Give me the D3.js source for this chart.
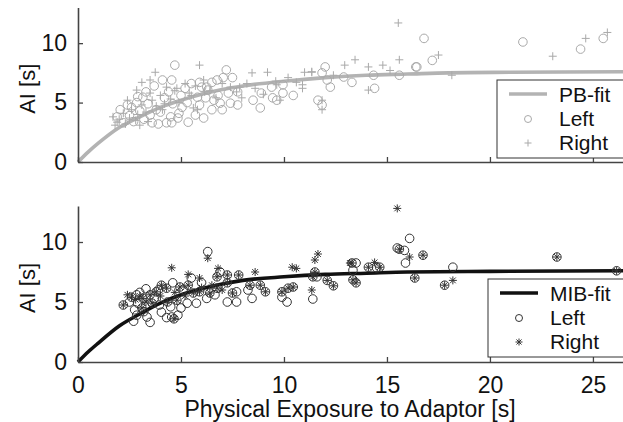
<!DOCTYPE html>
<html lang="en">
<head>
<meta charset="UTF-8">
<title>AI vs exposure</title>
<script src="https://d3js.org/d3.v7.min.js"></script>
<style>
  body { margin: 0; background: #fff; }
  svg { display: block; font-family: "Liberation Sans", Arial, sans-serif; }
</style>
</head>
<body>
<div id="chart"></div>
<script>
/*---------------- data ----------------*/
// x ticks / y ticks
const xTicks = [0, 5, 10, 15, 20, 25];
const yTicks = [0, 5, 10];

// fitted curves, [exposure, AI]
const pbFit = [[0,0],[0.5,0.85],[1,1.6],[2,2.9],[3,3.8],[4,4.6],[5,5.2],[6,5.7],[7,6.1],[8,6.4],[10,6.8],[12,7.1],[14,7.3],[16,7.4],[18,7.5],[21,7.55],[26.5,7.6]];
const mibFit = [[0,0],[0.5,0.85],[1,1.6],[2,3.0],[3,4.0],[4,4.9],[5,5.6],[6,6.1],[7,6.5],[8,6.8],[10,7.1],[12,7.3],[14,7.4],[16,7.5],[20,7.55],[26.5,7.6]];

// top panel (PB) - left eye, circles
const pbLeft = [[4.7,8.15],[4.55,6.9],[4.1,6.9],[5.9,6.7],[3.15,5.45],[2.85,5.0],[2.4,4.8],[2.05,4.4],[1.9,3.8],[5.35,3.35],
  [4.3,3.3],[4.55,3.3],[4.85,3.7],[5.7,3.95],[6.1,3.7],[5.05,4.6],[5.9,4.8],[4.0,4.2],[3.5,3.95],[6.2,5.4],
  [5.8,5.45],[6.25,6.3],[7.2,7.75],[7.05,7.1],[6.75,6.9],[7.5,7.1],[6.3,6.05],[6.8,5.6],[7.3,5.8],[7.75,5.9],
  [6.9,4.95],[7.4,4.95],[7.75,4.8],[6.5,4.4],[7.0,4.4],[8.5,5.2],[8.9,5.8],[9.4,6.3],[9.45,5.4],[9.65,5.2],
  [9.95,5.8],[10.45,5.6],[8.85,4.55],[9.95,6.5],[12.0,8.0],[11.85,7.5],[12.1,6.9],[12.25,6.3],[11.65,5.2],[11.85,4.8],
  [12.9,7.15],[13.3,6.7],[14.4,6.2],[14.35,7.3],[15.6,7.3],[16.4,8.0],[16.8,10.4],[17.2,8.55],[16.45,8.0],[21.6,10.1],
  [24.4,9.5],[25.5,10.4],[2.2,3.3],[2.5,3.9],[2.7,3.4],[3.0,4.3],[3.2,3.6],[3.4,4.9],[3.6,3.3],[3.8,4.4],
  [2.9,5.5],[3.3,5.9],[3.7,6.4],[4.2,5.4],[4.4,5.9],[4.6,4.9],[5.0,5.6],[5.2,6.2],[5.5,6.6],[4.9,4.1],
  [3.9,3.2],[2.6,4.6],[4.5,3.8],[6.5,6.7],[6.0,6.3],[6.6,5.2],[5.3,5.0]];

// top panel (PB) - right eye, pluses
const pbRight = [[5.9,8.15],[3.75,7.55],[3.5,6.9],[3.1,6.7],[2.85,6.05],[2.4,5.2],[4.8,6.2],[5.5,5.6],[5.8,4.4],[1.7,3.8],
  [1.9,3.35],[5.6,4.55],[8.45,7.5],[9.2,7.55],[11.0,7.55],[11.35,7.55],[10.9,6.5],[10.9,6.2],[9.65,6.5],[7.95,5.4],
  [7.85,6.3],[6.15,5.9],[9.8,5.2],[11.35,7.6],[12.4,7.3],[12.95,8.15],[13.45,8.6],[14.1,8.0],[14.8,8.15],[15.55,11.7],
  [15.6,8.6],[14.1,6.05],[11.85,5.2],[11.85,4.4],[15.15,7.7],[17.5,9.0],[23.05,8.9],[24.65,10.4],[25.7,10.9],[18.15,7.3],
  [1.8,3.1],[2.0,3.6],[2.2,4.1],[2.3,3.2],[2.5,3.7],[2.6,4.4],[2.8,3.5],[2.9,4.0],[3.1,4.8],[3.3,4.2],
  [3.4,3.4],[3.6,5.2],[3.8,4.7],[4.0,5.6],[4.2,4.9],[4.3,6.3],[4.5,5.3],[4.7,6.0],[4.9,5.0],[5.2,6.6],
  [5.4,5.8],[5.7,6.4],[6.1,6.9],[6.4,6.0],[6.7,5.4],[7.0,6.6],[7.4,6.3],[7.7,5.9],[8.2,6.6],[8.6,6.2],
  [9.0,5.7],[9.6,6.8],[10.2,7.1],[10.6,6.7],[3.0,3.1],[4.1,4.4],[3.5,5.8]];

// bottom panel (MIB) - left eye, circles
const mibLeft = [[2.2,4.75],[2.6,5.4],[2.85,5.6],[3.15,5.3],[3.5,5.6],[3.8,5.85],[4.05,6.4],[4.3,6.15],[4.95,6.25],[5.35,6.4],
  [5.6,5.75],[5.9,5.85],[5.75,4.9],[5.3,4.9],[4.8,5.15],[4.35,5.0],[3.95,4.75],[3.6,4.9],[3.1,4.5],[2.75,4.35],
  [3.35,3.75],[2.85,3.9],[4.05,4.15],[4.55,3.75],[4.85,3.9],[6.25,5.3],[2.7,3.4],[3.5,3.3],[4.3,3.7],[4.66,3.6],
  [6.3,9.2],[6.75,7.1],[7.25,7.25],[7.8,7.25],[7.25,6.6],[6.75,6.15],[6.4,5.75],[6.65,5.6],[7.5,5.75],[7.7,5.85],
  [8.35,6.4],[8.25,6.0],[8.85,6.4],[9.1,5.85],[9.9,5.85],[10.2,6.15],[10.45,6.25],[9.9,5.4],[7.7,5.0],[8.45,5.3],
  [10.15,5.0],[7.25,5.0],[11.4,7.1],[11.5,7.5],[11.6,7.1],[12.1,6.8],[12.4,6.35],[13.3,8.25],[13.5,8.25],[13.35,6.85],
  [13.5,6.6],[13.35,7.65],[14.1,7.9],[14.5,7.85],[14.65,7.9],[16.35,7.0],[11.4,5.25],[15.5,9.5],[15.6,9.4],[15.85,9.3],
  [15.9,8.25],[16.1,10.3],[16.75,8.9],[18.2,7.9],[17.8,6.4],[23.25,8.75],[26.15,7.6],[2.5,5.0],[3.0,5.8],[3.3,6.1],
  [3.9,6.0],[4.6,6.6],[5.1,6.0],[5.5,7.0],[6.0,6.6],[6.9,7.5],[3.2,4.2],[4.5,4.6],[5.0,4.5],[2.9,4.9],[3.7,5.3]];

// bottom panel (MIB) - right eye, asterisks
const mibRight = [[4.55,7.85],[5.35,7.3],[5.9,7.0],[6.3,8.65],[6.8,7.8],[8.6,7.5],[10.4,7.9],[10.6,7.8],[11.35,6.0],[15.5,12.8],
  [16.1,8.75],[11.65,9.0],[11.5,8.5],[14.4,8.3],[18.2,6.8],[13.2,8.25],[2.2,4.75],[2.6,5.4],[3.15,5.3],[3.5,5.6],
  [3.8,5.85],[4.05,6.4],[4.3,6.15],[4.95,6.25],[5.35,6.4],[5.6,5.75],[5.9,5.85],[4.8,5.15],[4.35,5.0],[3.6,4.9],
  [3.1,4.5],[4.66,3.6],[6.75,7.1],[7.25,7.25],[7.8,7.25],[7.25,6.6],[6.75,6.15],[6.4,5.75],[7.5,5.75],[8.35,6.4],
  [8.85,6.4],[9.1,5.85],[9.9,5.85],[10.2,6.15],[10.45,6.25],[11.4,7.1],[11.5,7.5],[12.1,6.8],[12.4,6.35],[13.3,8.25],
  [13.35,6.85],[13.5,6.6],[14.1,7.9],[14.65,7.9],[16.35,7.0],[16.75,8.9],[17.8,6.4],[23.25,8.75],[26.15,7.6],[15.6,9.4],
  [2.4,5.6],[2.8,5.2],[3.0,5.5],[3.3,5.0],[4.0,5.5],[4.7,5.8],[5.2,5.5],[6.0,6.2],[6.5,6.4],[7.0,6.0]];

/*---------------- layout ----------------*/
const W = 623, H = 422;
const svg = d3.select("#chart").append("svg").attr("width", W).attr("height", H);

const x = d3.scaleLinear().domain([0, 26.46]).range([78, 623]);

const panels = [
  { y: d3.scaleLinear().domain([0, 13]).range([162, 7.5]), fit: pbFit, left: pbLeft, right: pbRight,
    color: "#a9a9a9", lineColor: "#b3b3b3", rightMark: "plus", labels: false, name: "PB-fit",
    legend: { x: 497, y: 80, h: 78 } },
  { y: d3.scaleLinear().domain([0, 13]).range([362, 206]), fit: mibFit, left: mibLeft, right: mibRight,
    color: "#333", lineColor: "#111", rightMark: "star", labels: true, name: "MIB-fit",
    legend: { x: 488, y: 279, h: 78 } }
];

// marker shapes
function plusPath(s) { return `M${-s},0H${s}M0,${-s}V${s}`; }
function starPath(s) {
  const d = s * 0.72;
  return `M${-s},0H${s}M0,${-s}V${s}M${-d},${-d}L${d},${d}M${-d},${d}L${d},${-d}`;
}

panels.forEach(p => {
  const g = svg.append("g");
  const y0 = p.y(0);

  // fit curve
  const line = d3.line().x(d => x(d[0])).y(d => p.y(d[1])).curve(d3.curveMonotoneX);
  g.append("path").datum(p.fit)
    .attr("d", line)
    .attr("fill", "none")
    .attr("stroke", p.lineColor)
    .attr("stroke-width", 3.6);

  // left eye: circles
  g.append("g").selectAll("circle")
    .data(p.left).enter().append("circle")
    .attr("cx", d => x(d[0]))
    .attr("cy", d => p.y(d[1]))
    .attr("r", 4.3)
    .attr("fill", "none")
    .attr("stroke", p.color)
    .attr("stroke-width", 1);

  // right eye: plus / asterisk
  g.append("g").selectAll("path")
    .data(p.right).enter().append("path")
    .attr("transform", d => `translate(${x(d[0])},${p.y(d[1])})`)
    .attr("d", p.rightMark === "plus" ? plusPath(4) : starPath(4))
    .attr("fill", "none")
    .attr("stroke", p.color)
    .attr("stroke-width", 1);

  // axes
  const xAxis = d3.axisBottom(x).tickValues(xTicks)
    .tickSizeInner(-5).tickSizeOuter(0).tickPadding(15);
  if (!p.labels) xAxis.tickFormat("");
  const gx = g.append("g").attr("transform", `translate(0,${y0})`).call(xAxis);

  const yAxis = d3.axisLeft(p.y).tickValues(yTicks)
    .tickSizeInner(-5).tickSizeOuter(0).tickPadding(11);
  const gy = g.append("g").attr("transform", `translate(${x(0)},0)`).call(yAxis);

  [gx, gy].forEach(a => {
    a.select(".domain").attr("stroke", "#444").attr("stroke-width", 1.6);
    a.selectAll(".tick line").attr("stroke", "#444").attr("stroke-width", 1.3);
    a.selectAll(".tick text").attr("fill", "#111").style("font-size", "23px");
  });

  // y label
  g.append("text")
    .attr("transform", `translate(35,${(p.y(0) + p.y(13)) / 2 + 4}) rotate(-90)`)
    .attr("text-anchor", "middle")
    .style("font-size", "22px")
    .attr("fill", "#111")
    .text("AI [s]");

  // legend
  const L = p.legend;
  const lg = g.append("g").attr("transform", `translate(${L.x},${L.y})`);
  lg.append("rect").attr("width", 200).attr("height", L.h)
    .attr("fill", "#fff").attr("stroke", "#333").attr("stroke-width", 1);
  lg.append("line").attr("x1", 12).attr("x2", 50).attr("y1", 14).attr("y2", 14)
    .attr("stroke", p.lineColor).attr("stroke-width", 3.6);
  lg.append("circle").attr("cx", 31).attr("cy", 39).attr("r", 3.5)
    .attr("fill", "none").attr("stroke", p.color);
  lg.append("path").attr("transform", "translate(31,63)")
    .attr("d", p.rightMark === "plus" ? plusPath(3.5) : starPath(3.5))
    .attr("stroke", p.color).attr("fill", "none");
  const names = [p.name, "Left", "Right"];
  lg.selectAll("text.lab").data(names).enter().append("text")
    .attr("class", "lab")
    .attr("x", 62)
    .attr("y", (d, i) => 22 + i * 24)
    .style("font-size", "21px")
    .attr("fill", "#111")
    .text(d => d);
});

// x axis title
svg.append("text")
  .attr("x", 350).attr("y", 417)
  .attr("text-anchor", "middle")
  .style("font-size", "23px")
  .attr("fill", "#111")
  .text("Physical Exposure to Adaptor [s]");
</script>
</body>
</html>
